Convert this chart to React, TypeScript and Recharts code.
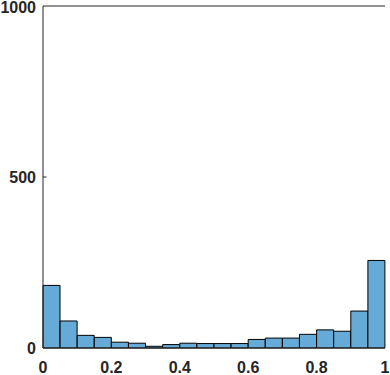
import { ComposedChart, Bar, XAxis, YAxis, ReferenceLine } from 'recharts';

const binCenters = [
  0.025, 0.075, 0.125, 0.175, 0.225, 0.275, 0.325, 0.375, 0.425, 0.475,
  0.525, 0.575, 0.625, 0.675, 0.725, 0.775, 0.825, 0.875, 0.925, 0.975,
];
const counts = [183, 79, 37, 31, 17, 14, 5, 10, 14, 13, 13, 13, 25, 29, 29, 40, 53, 49, 108, 256];
const xTicks = [0, 0.2, 0.4, 0.6, 0.8, 1];
const yTicks = [0, 500, 1000];

const data = binCenters.map((c, i) => ({ bin: c, count: counts[i] }));

const FONT = '"Liberation Sans", Arial, sans-serif';
const INK = '#262626';

function XTick(props: any) {
  const { x, y, payload } = props;
  return (
    <text x={x} y={y + 24.5} textAnchor="middle" fontFamily={FONT} fontSize={16} fontWeight="bold" fill={INK}>
      {String(payload.value)}
    </text>
  );
}

function YTickLeft(props: any) {
  const { x, y, payload } = props;
  // top label sits right at the edge, keep it inside the page
  const dy = payload.value === 1000 ? 6.6 : 5.7;
  return (
    <g>
      <text x={x} y={y + dy} textAnchor="end" fontFamily={FONT} fontSize={16} fontWeight="bold" fill={INK}>
        {String(payload.value)}
      </text>
      {payload.value === 500 && <line x1={x + 7} x2={x + 10.5} y1={y} y2={y} stroke={INK} />}
    </g>
  );
}

function YTickRight(props: any) {
  const { x, y, payload } = props;
  if (payload.value !== 500) return null;
  return <line x1={x} x2={x - 3.5} y1={y} y2={y} stroke={INK} />;
}

export default function App() {
  return (
    <div style={{ position: 'absolute', left: 0, top: 0, width: 390, height: 375, background: '#fff' }}>
      <ComposedChart width={390} height={375} data={data} margin={{ top: 6, right: 5, left: 0, bottom: 0 }} barCategoryGap={0} barGap={0}>
        <XAxis xAxisId="cat" dataKey="bin" type="category" hide height={0} padding={{ left: 0, right: 0 }} />
        <XAxis
          xAxisId="num"
          dataKey="bin"
          type="number"
          domain={[0, 1]}
          ticks={xTicks}
          allowDataOverflow
          height={27}
          tickLine={false}
          tickSize={0}
          tickMargin={0}
          axisLine={{ stroke: INK }}
          tick={<XTick />}
          interval={0}
        />
        <YAxis
          yAxisId="left"
          domain={[0, 1000]}
          ticks={yTicks}
          width={43}
          tickLine={false}
          tickSize={0}
          tickMargin={7}
          axisLine={{ stroke: INK }}
          tick={<YTickLeft />}
          interval={0}
        />
        <YAxis
          yAxisId="right"
          orientation="right"
          domain={[0, 1000]}
          ticks={[500]}
          width={0}
          tickLine={false}
          tickSize={0}
          tickMargin={0}
          axisLine={{ stroke: INK }}
          tick={<YTickRight />}
        />
        <Bar
          xAxisId="cat"
          yAxisId="left"
          dataKey="count"
          fill="#66AAD7"
          stroke="#000"
          strokeWidth={1}
          isAnimationActive={false}
        />
        <ReferenceLine xAxisId="num" yAxisId="left" y={1000} stroke={INK} />
      </ComposedChart>
    </div>
  );
}
